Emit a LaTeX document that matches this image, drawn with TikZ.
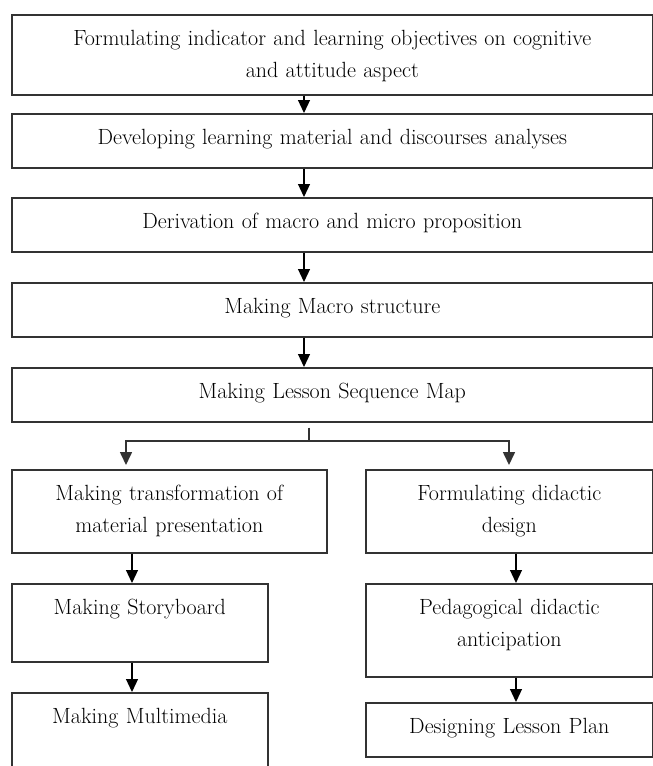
\documentclass[tikz,border=0pt]{standalone}
\usepackage{fontspec}
\usepackage{tikz}
\usetikzlibrary{arrows.meta}

\begin{document}
\begin{tikzpicture}[x=1pt, y=-1pt, >={Triangle[width=12pt,length=13pt]},
                    semithick, font=\fontsize{22}{32}\selectfont]
\tikzstyle{flowbox}=[draw=black!80, line width=1.6pt, inner sep=0pt,
                    align=center, anchor=north west, text height=31pt]
\tikzstyle{flowarrow}=[->, draw=black, line width=1.2pt]
  \useasboundingbox (0,0) rectangle (653,766);
  \clip (0,0) rectangle (653,766);
  % main column
  \node[flowbox, text width=641pt, text depth=49pt] (formulate) at (11,14)
    {Formulating indicator and learning objectives on cognitive\\ and attitude aspect};
  \node[flowbox, text width=641pt, text depth=23pt] (develop) at (11,113)
    {Developing learning material and discourses analyses};
  \node[flowbox, text width=641pt, text depth=23pt] (derive) at (11,197)
    {Derivation of macro and micro proposition};
  \node[flowbox, text width=641pt, text depth=23pt] (macro) at (11,282)
    {Making Macro structure};
  \node[flowbox, text width=641pt, text depth=23pt] (sequence) at (11,367)
    {Making Lesson Sequence Map};
  % left branch
  \node[flowbox, text width=315pt, text depth=52pt] (transform) at (11,469)
    {Making transformation of\\ material presentation};
  \node[flowbox, text width=256pt, text depth=47pt] (storyboard) at (11,583)
    {Making Storyboard};
  \node[flowbox, text width=256pt, text depth=49pt] (multimedia) at (11,692)
    {Making Multimedia};
  % right branch
  \node[flowbox, text width=287pt, text depth=52pt] (didactic) at (365,469)
    {Formulating didactic\\ design};
  \node[flowbox, text width=287pt, text depth=62pt] (anticipate) at (365,583)
    {Pedagogical didactic\\ anticipation};
  \node[flowbox, text width=287pt, text depth=23pt] (lessonplan) at (365,702)
    {Designing Lesson Plan};
  \coordinate (spine) at (304,0);
  \coordinate (fork) at (309,441);
  \coordinate (leftdrop) at (126,0);
  \coordinate (rightdrop) at (509,0);
  \coordinate (leftcol) at (132,0);
  \coordinate (rightcol) at (516,0);
  \draw[flowarrow] (formulate.south -| spine) -- (develop.north -| spine);
  \draw[flowarrow] (develop.south -| spine) -- (derive.north -| spine);
  \draw[flowarrow] (derive.south -| spine) -- (macro.north -| spine);
  \draw[flowarrow] (macro.south -| spine) -- (sequence.north -| spine);
  \draw[black!80, line width=1.6pt, shorten <=5pt] (sequence.south -| fork) -- (fork);
  \draw[flowarrow, draw=black!80, line width=1.6pt, shorten >=4pt] (fork) -| (transform.north -| leftdrop);
  \draw[flowarrow, draw=black!80, line width=1.6pt, shorten >=4pt] (fork) -| (didactic.north -| rightdrop);
  \draw[flowarrow] (transform.south -| leftcol) -- (storyboard.north -| leftcol);
  \draw[flowarrow] (storyboard.south -| leftcol) -- (multimedia.north -| leftcol);
  \draw[flowarrow] (didactic.south -| rightcol) -- (anticipate.north -| rightcol);
  \draw[flowarrow] (anticipate.south -| rightcol) -- (lessonplan.north -| rightcol);
\end{tikzpicture}
\end{document}
